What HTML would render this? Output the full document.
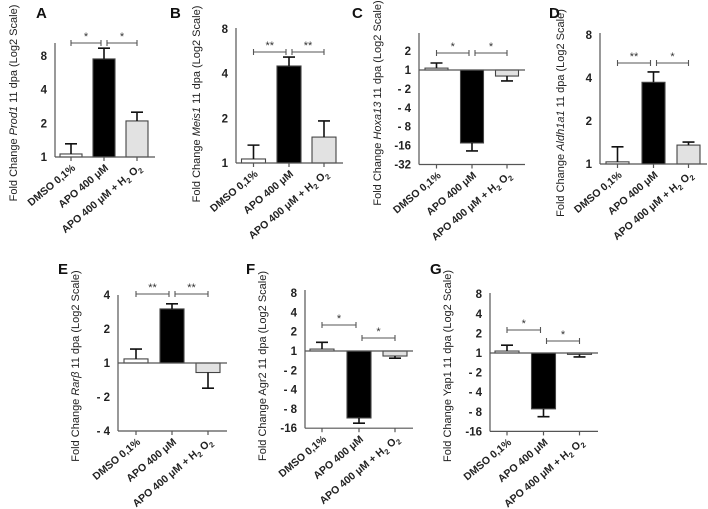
<!DOCTYPE html>
<html><head><meta charset="utf-8"><style>
html,body{margin:0;padding:0;background:#fff;}
svg{display:block;font-family:"Liberation Sans",Arial,sans-serif;}
</style></head><body>
<svg id="fig" width="708" height="509" viewBox="0 0 708 509" xmlns="http://www.w3.org/2000/svg"></svg>
<script>
const catLabels = ['DMSO 0,1%', 'APO 400 μM', 'APO 400 μM + H2O2'];
const barFills = ['#ffffff', '#000000', '#e2e2e2'];
const posTicks = [0, 1, 2, 3];
const posTickLabels = ['1', '2', '4', '8'];
const hoxTicks = [1, 0, -1, -2, -3, -4, -5];
const hoxTickLabels = ['2', '1', '- 2', '- 4', '- 8', '-16', '-32'];
const rarTicks = [2, 1, 0, -1, -2];
const rarTickLabels = ['4', '2', '1', '- 2', '- 4'];
const wideTicks = [3, 2, 1, 0, -1, -2, -3, -4];
const wideTickLabels = ['8', '4', '2', '1', '- 2', '- 4', '- 8', '-16'];

const prod1Mean = [0.09, 2.91, 1.07];
const prod1Err = [0.30, 0.32, 0.26];
const prod1Stars = ['*', '*'];
const meis1Mean = [0.09, 2.17, 0.58];
const meis1Err = [0.31, 0.20, 0.36];
const meis1Stars = ['**', '**'];
const hoxa13Mean = [0.10, -3.86, -0.32];
const hoxa13Err = [0.27, 0.42, 0.26];
const hoxa13Stars = ['*', '*'];
const aldh1a1Mean = [0.05, 1.90, 0.44];
const aldh1a1Err = [0.35, 0.24, 0.07];
const aldh1a1Stars = ['**', '*'];
const rarbMean = [0.12, 1.59, -0.28];
const rarbErr = [0.29, 0.15, 0.46];
const rarbStars = ['**', '**'];
const agr2Mean = [0.10, -3.47, -0.26];
const agr2Err = [0.35, 0.27, 0.11];
const agr2Stars = ['*', '*'];
const yap1Mean = [0.10, -2.85, -0.07];
const yap1Err = [0.30, 0.40, 0.13];
const yap1Stars = ['*', '*'];

const NS = 'http://www.w3.org/2000/svg';
const fig = document.getElementById('fig');
function mk(tag, attrs, parent) {
  const e = document.createElementNS(NS, tag);
  for (const k in attrs) e.setAttribute(k, attrs[k]);
  (parent || fig).appendChild(e);
  return e;
}

function panel(cfg) {
  const g = mk('g', {});
  
  
  const Y = v => cfg.y0 - v * cfg.unit;
  const minT = Math.min(...cfg.ticks);
  const bottomY = Y(minT);

  const L = mk('text', {x: cfg.lx, y: cfg.ly, 'font-size': 15, 'font-weight': 'bold', fill: '#111'}, g);
  L.textContent = cfg.letter;
  
  

  const t = mk('text', {transform: `translate(${cfg.tx},${cfg.ty}) rotate(-90)`, 'text-anchor': 'middle', 'font-size': 11, fill: '#222'}, g);
  
  
  const t1 = mk('tspan', {}, t); t1.textContent = 'Fold Change ';
  const t2 = mk('tspan', {'font-style': cfg.italic ? 'italic' : 'normal'}, t); t2.textContent = cfg.gene;
  const t3 = mk('tspan', {}, t); t3.textContent = '  11 dpa (Log2 Scale)';

  const ya = mk('line', {x1: cfg.ax, x2: cfg.ax, y1: cfg.top, y2: bottomY, stroke: '#555', 'stroke-width': 1.2}, g);
  
  
  cfg.ticks.forEach((tv, i) => {
    const tl = mk('text', {x: cfg.ax - 8, y: Y(tv) + 4, 'text-anchor': 'end', 'font-size': 11.5, 'font-weight': 'bold', fill: '#222'}, g);
    tl.textContent = cfg.tickLabels[i];
    
    
  });

  cfg.mean.forEach((m, i) => {
    const cx = cfg.cx[i], w = cfg.w;
    const yTop = Math.min(Y(m), Y(0)), h = Math.abs(Y(m) - Y(0));
    const r = mk('rect', {x: cx - w / 2, y: yTop, width: w, height: Math.max(h, 0.5), fill: barFills[i], stroke: '#444', 'stroke-width': 1.1}, g);
    
    
    const sgn = m >= 0 ? 1 : -1;
    const ye = Y(m + sgn * cfg.err[i]);
    const el = mk('path', {d: `M${cx},${Y(m)}V${ye}M${cx - 6},${ye}H${cx + 6}`, stroke: '#111', 'stroke-width': 1.6, fill: 'none'}, g);
    
    
  });

  const bl = mk('line', {x1: cfg.ax, x2: cfg.right, y1: Y(0), y2: Y(0), stroke: '#555', 'stroke-width': 1.2}, g);
  
  
  if (minT < 0) {
    const xb = mk('line', {x1: cfg.ax, x2: cfg.right, y1: bottomY, y2: bottomY, stroke: '#555', 'stroke-width': 1.2}, g);
    
    
  }
  cfg.cx.forEach((cx, i) => {
    mk('line', {x1: cx, x2: cx, y1: bottomY, y2: bottomY + 4, stroke: '#555', 'stroke-width': 1.2}, g);
    const xl = mk('text', {transform: `translate(${cx + 5},${bottomY + 12}) rotate(-40)`, 'text-anchor': 'end', 'font-size': 10.5, 'font-weight': 'bold', fill: '#222'}, g);
    
    
    if (i === 2) {
      const a = mk('tspan', {}, xl); a.textContent = 'APO 400 μM + H';
      const b = mk('tspan', {dy: 3, 'font-size': 7.5}, xl); b.textContent = '2';
      const c = mk('tspan', {dy: -3}, xl); c.textContent = ' O';
      const d = mk('tspan', {dy: 3, 'font-size': 7.5}, xl); d.textContent = '2';
    } else xl.textContent = catLabels[i];
  });

  [[0, 1], [1, 2]].forEach((p, k) => {
    const x1 = cfg.cx[p[0]] + (k === 1 ? 3 : 0), x2 = cfg.cx[p[1]] - (k === 0 ? 3 : 0);
    const by = cfg.brY[k];
    const br = mk('path', {d: `M${x1},${by - 3}V${by + 3}M${x1},${by}H${x2}M${x2},${by - 3}V${by + 3}`, stroke: '#555', 'stroke-width': 1.1, fill: 'none'}, g);
    
    
    const st = mk('text', {x: (x1 + x2) / 2, y: by - 3, 'text-anchor': 'middle', 'font-size': 11, fill: '#333'}, g);
    st.textContent = cfg.stars[k];
    
    
  });
}

panel({letter: 'A', lx: 36, ly: 18, gene: 'Prod1', italic: true, tx: 17, ty: 103, ax: 55, top: 43, y0: 157, unit: 33.7, right: 155,
  ticks: posTicks, tickLabels: posTickLabels, cx: [71, 104, 137], w: 22, brY: [43, 43], mean: prod1Mean, err: prod1Err, stars: prod1Stars});
panel({letter: 'B', lx: 170, ly: 18, gene: 'Meis1', italic: true, tx: 200, ty: 104, ax: 236, top: 28, y0: 163, unit: 44.7, right: 343,
  ticks: posTicks, tickLabels: posTickLabels, cx: [253.5, 289, 324], w: 24, brY: [52, 52], mean: meis1Mean, err: meis1Err, stars: meis1Stars});
panel({letter: 'C', lx: 352, ly: 18, gene: 'Hoxa13', italic: true, tx: 381, ty: 103, ax: 419, top: 33, y0: 70, unit: 18.9, right: 525,
  ticks: hoxTicks, tickLabels: hoxTickLabels, cx: [436.5, 472, 507], w: 23, brY: [53, 53], mean: hoxa13Mean, err: hoxa13Err, stars: hoxa13Stars});
panel({letter: 'D', lx: 549, ly: 18, gene: 'Aldh1a1', italic: true, tx: 564, ty: 113, ax: 600, top: 33, y0: 164, unit: 43, right: 707,
  ticks: posTicks, tickLabels: posTickLabels, cx: [617.5, 653.5, 688.5], w: 23, brY: [63, 63], mean: aldh1a1Mean, err: aldh1a1Err, stars: aldh1a1Stars});
panel({letter: 'E', lx: 58, ly: 274, gene: 'Rarβ', italic: true, tx: 79, ty: 366, ax: 118, top: 295, y0: 363, unit: 34, right: 227,
  ticks: rarTicks, tickLabels: rarTickLabels, cx: [136, 172, 208], w: 24, brY: [294, 294], mean: rarbMean, err: rarbErr, stars: rarbStars});
panel({letter: 'F', lx: 246, ly: 274, gene: 'Agr2', italic: false, tx: 266, ty: 366, ax: 305, top: 290, y0: 351, unit: 19.3, right: 413,
  ticks: wideTicks, tickLabels: wideTickLabels, cx: [322, 359, 395], w: 24, brY: [325, 338], mean: agr2Mean, err: agr2Err, stars: agr2Stars});
panel({letter: 'G', lx: 430, ly: 274, gene: 'Yap1', italic: false, tx: 451, ty: 366, ax: 490, top: 293, y0: 353, unit: 19.6, right: 598,
  ticks: wideTicks, tickLabels: wideTickLabels, cx: [507, 543.5, 579.5], w: 24, brY: [330, 341], mean: yap1Mean, err: yap1Err, stars: yap1Stars});
</script>
</body></html>
